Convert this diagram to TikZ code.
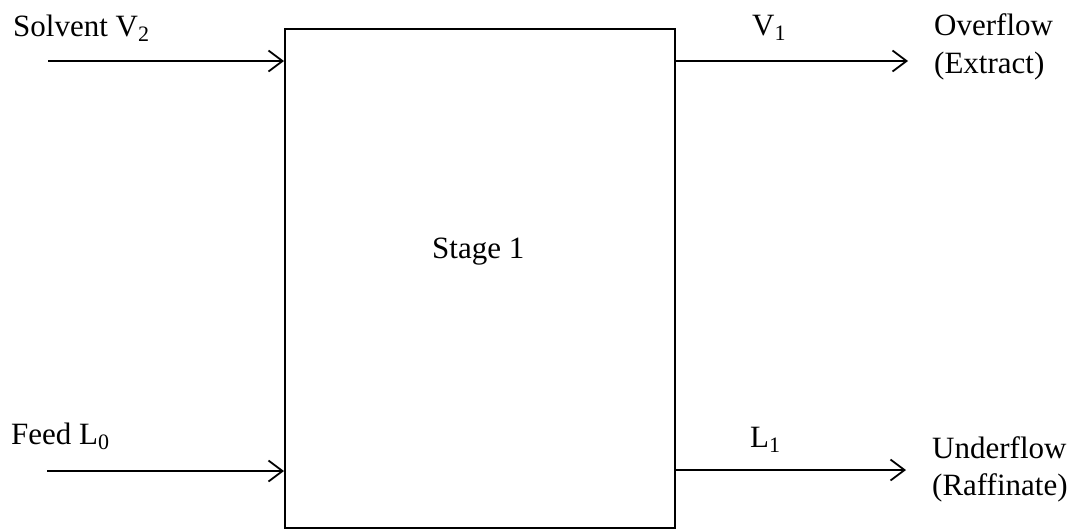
\documentclass[tikz,border=0pt]{standalone}
\usepackage{fontspec}
\setmainfont{Liberation Serif}
\usetikzlibrary{arrows.meta}
\newcommand{\mysub}[1]{\raisebox{-5pt}{\fontsize{22}{22}\selectfont #1}}
\tikzset{
  lbl/.style={inner sep=0pt, anchor=base west, font=\fontsize{31}{38}\selectfont},
  flow/.style={line width=1.8pt, -{Straight Barb[length=14pt,width=21pt,line width=1.8pt]}},
  boxst/.style={draw, line width=1.8pt, minimum width=390pt, minimum height=499pt, inner sep=0pt, anchor=north west}
}
\begin{document}
\begin{tikzpicture}[x=1pt,y=-1pt]
\useasboundingbox (0,0) rectangle (1082,531);
\node[boxst] (stage) at (284,28) {};
\node[lbl] (stxt) at (432,258) {Stage 1};
\node[lbl] (solv) at (13,36) {Solvent V\mysub{2}};
\node[lbl] (feed) at (11,444) {Feed L\mysub{0}};
\node[lbl] (v1) at (752,35) {V\mysub{1}};
\node[lbl] (l1) at (750,447) {L\mysub{1}};
\node[lbl] (over) at (934,35) {Overflow};
\node[lbl] (extr) at (934,73) {(Extract)};
\node[lbl] (under) at (932,458) {Underflow};
\node[lbl] (raff) at (932,495) {(Raffinate)};
\coordinate (a1) at (48,61);
\coordinate (a2) at (47,471);
\coordinate (b1) at (908,61);
\coordinate (b2) at (906,470);
\draw[flow] (a1) -- (a1 -| stage.west);
\draw[flow] (a2) -- (a2 -| stage.west);
\draw[flow] (b1 -| stage.east) -- (b1);
\draw[flow] (b2 -| stage.east) -- (b2);
\end{tikzpicture}
\end{document}
